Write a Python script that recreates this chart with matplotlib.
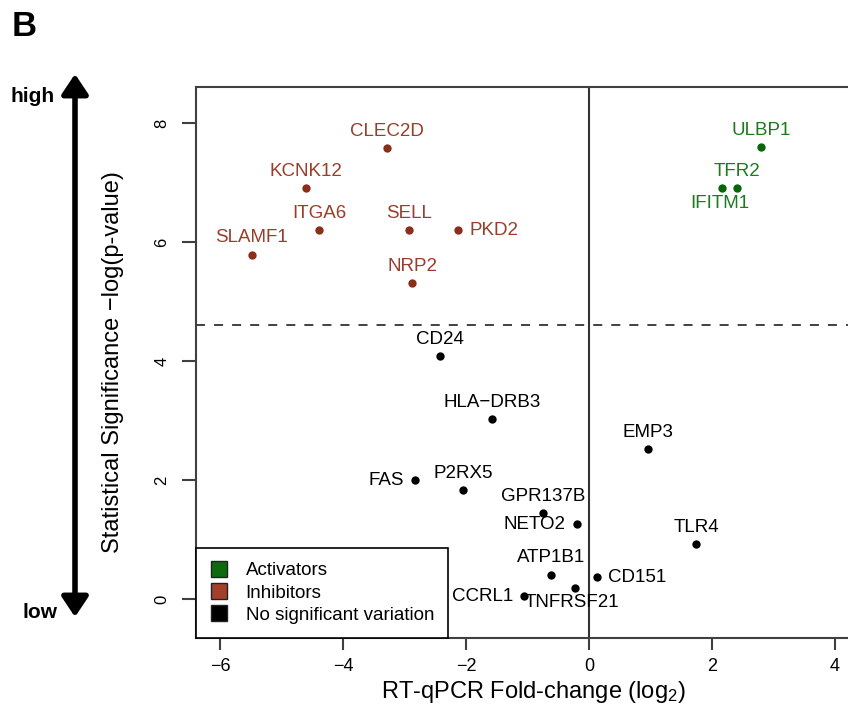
import numpy as np
import matplotlib.pyplot as plt
from matplotlib.lines import Line2D
from matplotlib.patches import FancyArrowPatch

plt.rcParams['font.family'] = ['Liberation Sans', 'DejaVu Sans']
plt.rcParams['mathtext.fontset'] = 'custom'
plt.rcParams['mathtext.rm'] = 'Liberation Sans'
plt.rcParams['mathtext.it'] = 'Liberation Sans'

# data
genes = ['CLEC2D', 'KCNK12', 'ITGA6', 'SELL', 'PKD2', 'SLAMF1', 'NRP2',
         'ULBP1', 'TFR2', 'IFITM1',
         'CD24', 'HLA\u2212DRB3', 'FAS', 'P2RX5', 'GPR137B', 'NETO2',
         'EMP3', 'TLR4', 'CD151', 'ATP1B1', 'TNFRSF21', 'CCRL1']
fold_change = [-3.29, -4.60, -4.39, -2.92, -2.13, -5.48, -2.87,
               2.80, 2.40, 2.17,
               -2.43, -1.57, -2.83, -2.05, -0.74, -0.20,
               0.96, 1.74, 0.125, -0.61, -0.23, -1.05]
significance = [7.58, 6.90, 6.20, 6.20, 6.20, 5.79, 5.31,
                7.59, 6.90, 6.90,
                4.08, 3.03, 2.00, 1.83, 1.45, 1.26,
                2.52, 0.92, 0.37, 0.41, 0.19, 0.05]
group = ['inh'] * 7 + ['act'] * 3 + ['ns'] * 12
threshold = -np.log(0.01)

legend_names = ['Activators', 'Inhibitors', 'No significant variation']

# where each label sits relative to its dot
label_pos = {'PKD2': 'right', 'IFITM1': 'below', 'FAS': 'left', 'NETO2': 'left',
             'CD151': 'right', 'CCRL1': 'left', 'TNFRSF21': 'below'}

pt_col = {'act': '#0a640a', 'inh': '#8a2f1c', 'ns': 'black'}
txt_col = {'act': '#1d7a1d', 'inh': '#9a3d2a', 'ns': 'black'}
leg_col = ['#0c6b0c', '#a3402a', 'black']

W, H = 848, 727
fig = plt.figure(figsize=(W / 100, H / 100), dpi=100)
ax = fig.add_axes([196 / W, 89 / H, (870 - 196) / W, 551 / H])

for g in ['inh', 'act', 'ns']:
    xs = [x for x, gg in zip(fold_change, group) if gg == g]
    ys = [y for y, gg in zip(significance, group) if gg == g]
    ax.scatter(xs, ys, s=36, color=pt_col[g], zorder=3, linewidths=0)

for name, x, y, g in zip(genes, fold_change, significance, group):
    p = label_pos.get(name, 'above')
    if p == 'above':
        off, ha, va = (0, 12), 'center', 'center'
    elif p == 'below':
        off, ha, va = (-2, -10.5), 'center', 'center'
    elif p == 'left':
        off, ha, va = (-8, 0), 'right', 'center'
    else:
        off, ha, va = (8, 0), 'left', 'center'
    ax.annotate(name, (x, y), xytext=off, textcoords='offset points',
                ha=ha, va=va, fontsize=13.5, color=txt_col[g], zorder=4)

ax.axvline(0, color='#333333', lw=1.5, zorder=1)
ax.axhline(threshold, color='#333333', lw=1.3, ls=(0, (5, 5)), zorder=1)

ax.set_xlim(-6.39, 4.57)
ax.set_ylim(-0.655, 8.605)
ax.set_xticks([-6, -4, -2, 0, 2, 4])
ax.set_yticks([0, 2, 4, 6, 8])
for s in ['left', 'bottom', 'top']:
    ax.spines[s].set_color('#404040')
    ax.spines[s].set_linewidth(1.5)
ax.spines['right'].set_visible(False)
ax.tick_params(axis='x', length=8.6, width=1.5, color='#404040', labelsize=13, pad=6)
ax.tick_params(axis='y', length=10, width=1.5, color='#404040', labelsize=12, pad=9)
for lab in ax.get_yticklabels():
    lab.set_rotation(90)
    lab.set_va('center')

handles = [Line2D([], [], marker='s', ls='', markersize=11, markerfacecolor=c,
                  markeredgecolor='#222222', markeredgewidth=1) for c in leg_col]
leg = ax.legend(handles, legend_names, loc='lower left', bbox_to_anchor=(0, 0),
                borderaxespad=0, fancybox=False, edgecolor='black', fontsize=13.5,
                handlelength=1.0, handletextpad=0.9, borderpad=0.75, labelspacing=0.28,
                framealpha=1)
leg.get_frame().set_linewidth(1.2)

fig.text(113 / W, 1 - 362 / H, 'Statistical Significance \u2212log(p-value)',
         rotation=90, ha='center', va='center', fontsize=17)
fig.text(533 / W, 1 - 692 / H, 'RT-qPCR Fold-change (log$_2$)',
         ha='center', va='center', fontsize=17)

arrow = FancyArrowPatch((75 / W, 1 - 617 / H), (75 / W, 1 - 74 / H),
                        transform=fig.transFigure,
                        arrowstyle='<|-|>,head_length=0.6,head_width=0.4',
                        mutation_scale=20, lw=4, color='black',
                        shrinkA=0, shrinkB=0)
fig.patches.append(arrow)
fig.text(33 / W, 1 - 96 / H, 'high', ha='center', va='center', fontsize=15, weight='bold')
fig.text(40 / W, 1 - 612 / H, 'low', ha='center', va='center', fontsize=15, weight='bold')
fig.text(12 / W, 1 - 27 / H, 'B', ha='left', va='center', fontsize=25, weight='bold')

fig.savefig('out.png', dpi=100)
